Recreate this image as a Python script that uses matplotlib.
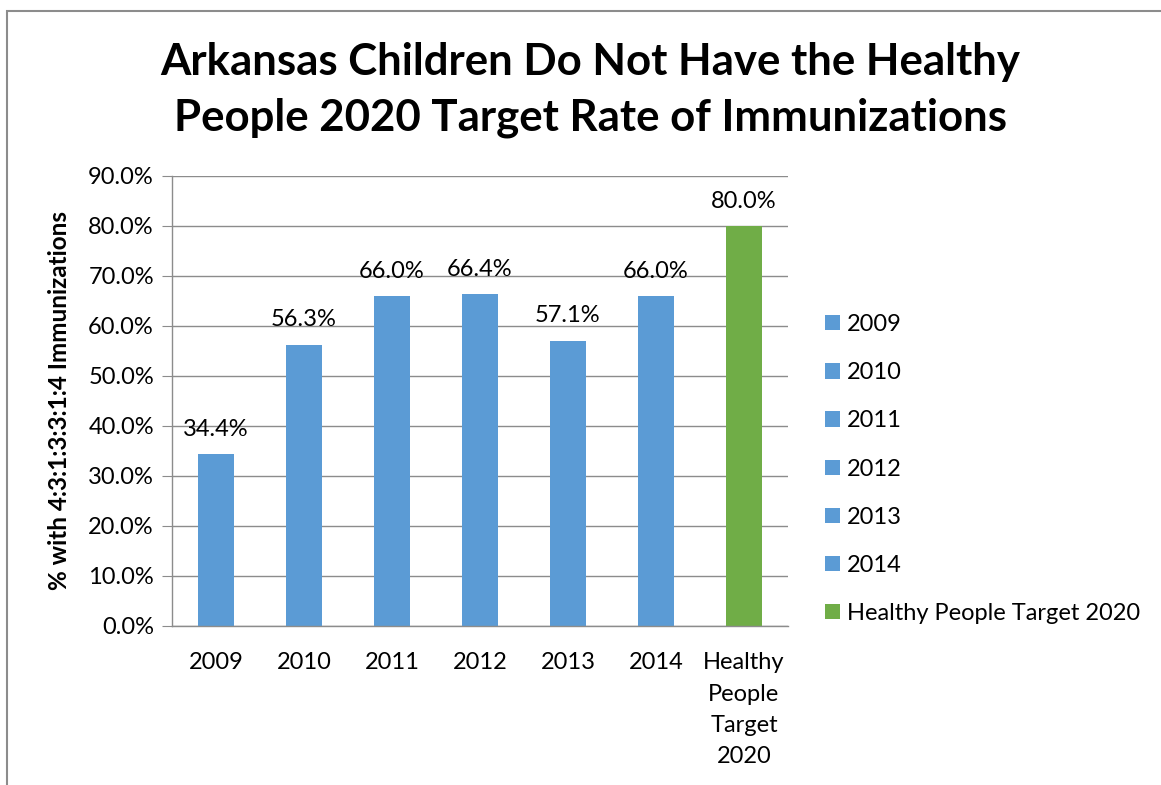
"""Arkansas immunization rates vs Healthy People 2020 target, as a bar chart."""

import matplotlib
matplotlib.use("Agg")
import matplotlib.pyplot as plt
from matplotlib.patches import Rectangle
from matplotlib.ticker import FuncFormatter

# ─── Data ────────────────────────────────────────────────────────────────────

categories = ["2009", "2010", "2011", "2012", "2013", "2014", "Healthy People Target 2020"]
tick_labels = ["2009", "2010", "2011", "2012", "2013", "2014", "Healthy\nPeople\nTarget\n2020"]
rates = [0.344, 0.563, 0.660, 0.664, 0.571, 0.660, 0.800]

BLUE = "#5B9BD5"
GREEN = "#70AD47"
colors = [BLUE] * 6 + [GREEN]

plt.rcParams["font.family"] = ["Lato", "DejaVu Sans"]

W, H = 1161, 785
fig = plt.figure(figsize=(W / 100, H / 100), dpi=100)

# chart frame (cut by the page edge on the right and bottom)
fig.add_artist(Rectangle((7 / W, -0.1), 1.2, 1 - 11 / H + 0.1,
                         transform=fig.transFigure, fill=False,
                         edgecolor="#8c8c8c", linewidth=1.5))

ax = fig.add_axes([172 / W, 1 - 626 / H, 616 / W, 450 / H])

x = range(len(categories))
for i, (cat, val, c) in enumerate(zip(categories, rates, colors)):
    ax.bar(i, val, width=0.4, color=c, label=cat, zorder=2)
    ax.text(i, val + 0.029, f"{val * 100:.1f}%", ha="center", va="bottom",
            fontsize=17, color="black")

ax.set_xlim(-0.5, len(categories) - 0.5)
ax.set_ylim(0, 0.9)
ax.set_yticks([i / 10 for i in range(10)])
ax.yaxis.set_major_formatter(FuncFormatter(lambda v, _: f"{v * 100:.1f}%"))
ax.set_xticks(list(x))
ax.set_xticklabels(tick_labels, fontsize=17, linespacing=1.6)
ax.tick_params(axis="y", labelsize=17, length=7, color="#8c8c8c", pad=6)
ax.tick_params(axis="x", length=0, pad=19)

ax.grid(axis="y", color="#8c8c8c", linewidth=1, zorder=0)
for side in ("top", "right"):
    ax.spines[side].set_visible(False)
for side in ("left", "bottom"):
    ax.spines[side].set_color("#8c8c8c")
    ax.spines[side].set_linewidth(1)

ax.set_ylabel("% with 4:3:1:3:3:1:4 Immunizations", fontsize=17.5,
              fontweight="bold", labelpad=12)

fig.text(590 / W, 1 - 90 / H,
         "Arkansas Children Do Not Have the Healthy\nPeople 2020 Target Rate of Immunizations",
         ha="center", va="center", fontsize=31.5, fontweight="bold",
         linespacing=1.5)

fig.legend(loc="center left", bbox_to_anchor=(825 / W, 1 - 469 / H),
           frameon=False, fontsize=17, handlelength=0.62, handleheight=0.62,
           handletextpad=0.3, labelspacing=1.15, borderpad=0, borderaxespad=0)

fig.savefig("out.png", dpi=100)
